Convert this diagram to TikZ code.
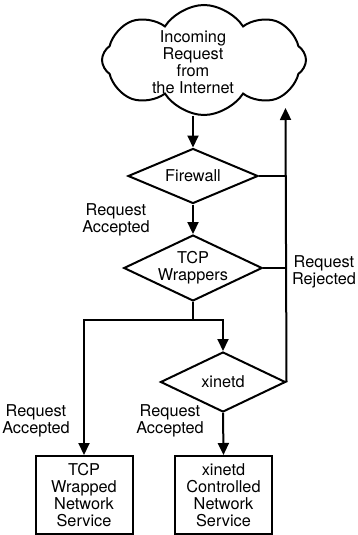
\documentclass[tikz,border=0pt]{standalone}
\usepackage{fontspec}
\setmainfont{TeX Gyre Heros}
\usepackage{tikz}
\usetikzlibrary{arrows.meta, shapes.geometric, shapes.symbols}

\begin{document}
\begin{tikzpicture}[x=1pt, y=-1pt,
    every node/.style={font=\fontsize{16.3}{16.8}\selectfont, align=center},
    decision/.style={diamond, draw, line width=2pt, inner sep=0pt, shape aspect=2.1},
    service/.style={rectangle, draw, line width=2pt, minimum width=97pt, minimum height=78pt, inner sep=0pt},
    link/.style={line width=2pt},
    arr/.style={link, -{Triangle[length=12pt, width=11pt]}}]
  \useasboundingbox (0,0) rectangle (357,535);

  % Incoming request
  \node[cloud, draw, line width=2pt, cloud puffs=8, cloud puff arc=115,
        cloud ignores aspect, minimum width=204pt, minimum height=110pt,
        inner sep=0pt] (cloud) at (204,60) {};
  \node (incoming) at (193,62) {Incoming\\Request\\from\\the Internet};
  \coordinate (cin) at (193,116);

  % Decisions
  \node[decision, minimum width=130pt, minimum height=55pt] (fw) at (193,176) {Firewall};
  \node[decision, minimum width=134pt, minimum height=64pt] (tcp) at (193,268) {TCP\\Wrappers};
  \node[decision, minimum width=125pt, minimum height=60pt] (xi) at (223,382) {xinetd};

  % Services
  \node[service] (tcpsvc) at (84,495) {TCP\\Wrapped\\Network\\Service};
  \node[service] (xisvc) at (223.5,495) {xinetd\\Controlled\\Network\\Service};

  % Accepted paths
  \coordinate (split) at (193,320);
  \draw[arr] (cin) -- (fw.north);
  \draw[arr] (fw.south) -- (tcp.north);
  \draw[link] (tcp.south) -- (split);
  \draw[arr] (split) -| (tcpsvc.north);
  \draw[arr] (split) -| (xi.north);
  \draw[arr] (xi.south) -- (xisvc.north);

  % Rejected path
  \coordinate (cout) at (285.5,108);
  \draw[arr] (xi.east) -- (cout);
  \draw[link] (fw.east) -- (fw.east -| cout);
  \draw[link] (tcp.east) -- (tcp.east -| cout);

  % Labels
  \node (accfw) at (116,220) {Request\\Accepted};
  \node (acctcp) at (36,421) {Request\\Accepted};
  \node (accxi) at (170,421) {Request\\Accepted};
  \node (rej) at (324,272) {Request\\Rejected};
\end{tikzpicture}
\end{document}
